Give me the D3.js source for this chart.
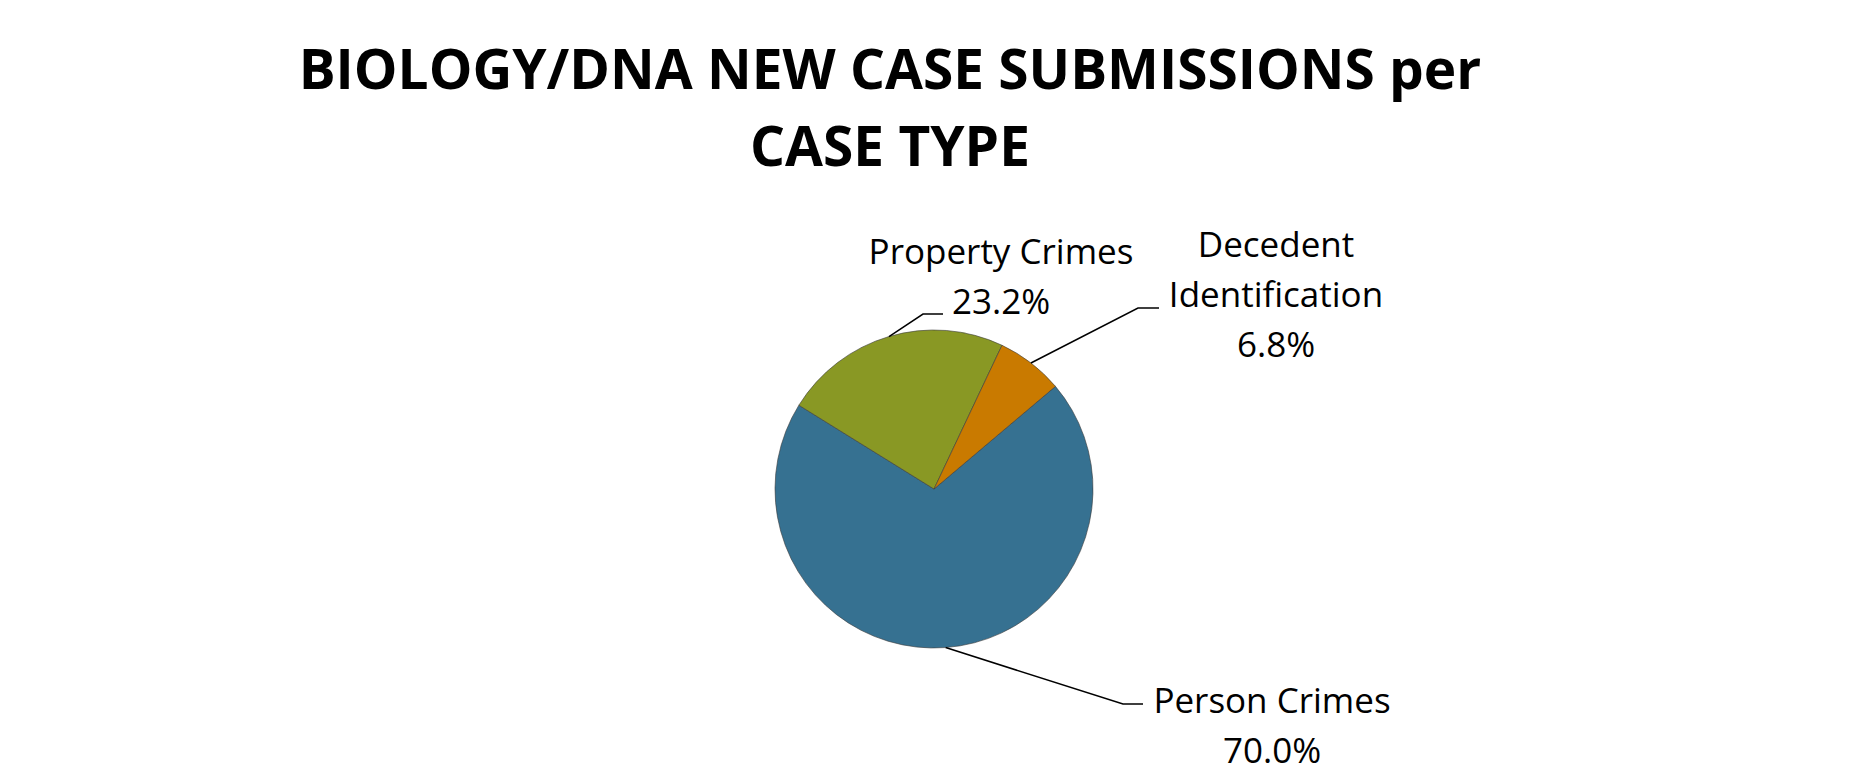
<!DOCTYPE html>
<html>
<head>
<meta charset="utf-8">
<script src="https://cdn.jsdelivr.net/npm/d3@7"></script>
<style>
  html, body { margin: 0; padding: 0; background: #ffffff; }
  svg { display: block; }
  text { font-family: "Open Sans", Lato, sans-serif; fill: #000000; }
</style>
</head>
<body>
<div id="chart"></div>
<script>
// data
const categories = ["Person Crimes", "Property Crimes", "Decedent Identification"];
const shares = [70.0, 23.2, 6.8];
const titleLines = ["BIOLOGY/DNA NEW CASE SUBMISSIONS per", "CASE TYPE"];
const labelLines = [["Person Crimes"], ["Property Crimes"], ["Decedent", "Identification"]];

const colors = ["#367191", "#899824", "#c97a00"];

const width = 1868;
const height = 783;
const cx = 934;
const cy = 489;
const radius = 159;
// first slice starts about 50 degrees clockwise from 12 o'clock, as in the original
const startAngle = 49.8 * Math.PI / 180;

// label placement: text centre x, first baseline y, elbow of leader line, end of leader line
const labelLayout = [
	{ x: 1272, y: 713, elbowX: 1123, elbowY: 704, endX: 1143 },
	{ x: 1001, y: 264, elbowX: 923, elbowY: 314, endX: 943 },
	{ x: 1276, y: 257, elbowX: 1138, elbowY: 308, endX: 1159 }
];
const lineHeight = 50;

const data = categories.map((c, i) => ({ label: c, value: shares[i], lines: labelLines[i] }));

const svg = d3
	.select("#chart")
	.append("svg")
	.attr("width", width)
	.attr("height", height);

// title
svg
	.append("g")
	.selectAll("text")
	.data(titleLines)
	.enter()
	.append("text")
	.attr("x", 890)
	.attr("y", (d, i) => 89 + i * 77)
	.attr("text-anchor", "middle")
	.style("font-size", "55px")
	.style("font-weight", "bold")
	.text(d => d);

const pie = d3
	.pie()
	.sort(null)
	.value(d => d.value)
	.startAngle(startAngle)
	.endAngle(startAngle + 2 * Math.PI);

const arc = d3.arc().innerRadius(0).outerRadius(radius);
const edge = d3.arc().innerRadius(radius).outerRadius(radius);

const arcs = pie(data);

const g = svg.append("g").attr("transform", `translate(${cx},${cy})`);

g
	.selectAll(".slice")
	.data(arcs)
	.enter()
	.append("path")
	.attr("class", "slice")
	.attr("d", arc)
	.attr("fill", (d, i) => colors[i])
	.attr("stroke", "#3a3a3a")
	.attr("stroke-width", 0.6);

// leader lines
g
	.selectAll(".leader")
	.data(arcs)
	.enter()
	.append("polyline")
	.attr("class", "leader")
	.attr("fill", "none")
	.attr("stroke", "#000000")
	.attr("stroke-width", 1.5)
	.attr("points", (d, i) => {
		const p = edge.centroid(d);
		const L = labelLayout[i];
		return [p, [L.elbowX - cx, L.elbowY - cy], [L.endX - cx, L.elbowY - cy]].map(q => q.join(",")).join(" ");
	});

// data labels
const labels = svg
	.selectAll(".label")
	.data(arcs)
	.enter()
	.append("text")
	.attr("class", "label")
	.attr("text-anchor", "middle")
	.style("font-size", "35px");

labels.each(function (d, i) {
	const L = labelLayout[i];
	const t = d3.select(this);
	const rows = d.data.lines.concat([`${d.data.value.toFixed(1)}%`]);
	rows.forEach((r, k) => {
		t.append("tspan").attr("x", L.x).attr("y", L.y + k * lineHeight).text(r);
	});
});
</script>
</body>
</html>
